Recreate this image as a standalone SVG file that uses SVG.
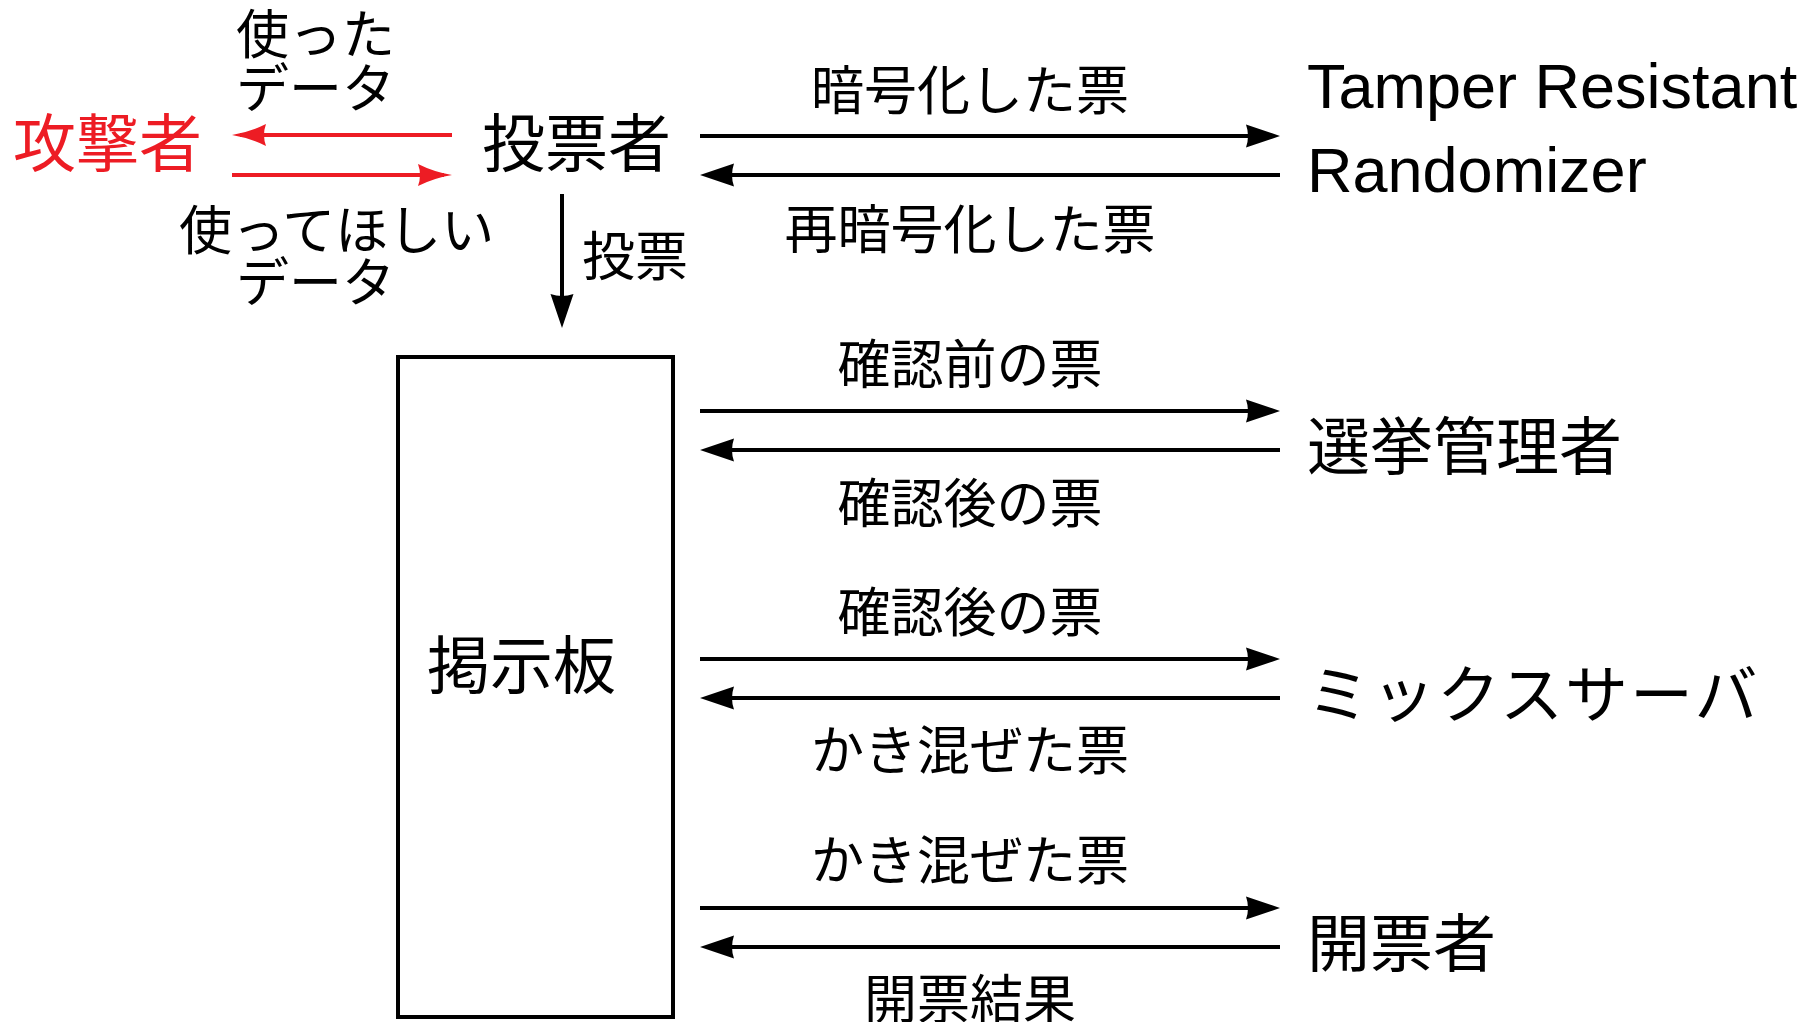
<svg xmlns="http://www.w3.org/2000/svg" width="1807" height="1022" viewBox="0 0 1807 1022">
<style>
text{font-family:"Liberation Sans","Noto Sans CJK JP",sans-serif;fill:#000}
.big{font-size:63px}
.lat{font-size:63px}
.lbl{font-size:53px}
.mid{text-anchor:middle}
.red{fill:#ED1C24}
.ln{stroke:#000;stroke-width:4;fill:none}
.rln{stroke:#ED1C24;stroke-width:4;fill:none}
</style>
<defs>
<marker id="ah" viewBox="0 -12 36 24" markerUnits="userSpaceOnUse" markerWidth="36" markerHeight="24" refX="26" refY="0" orient="auto">
<path d="M0,-11.5 L34,0 L0,11.5 Q4,0 0,-11.5 Z" fill="#000"/>
</marker>
<marker id="rah" viewBox="0 -12 36 24" markerUnits="userSpaceOnUse" markerWidth="36" markerHeight="24" refX="26" refY="0" orient="auto">
<path d="M0,-11 Q16,-3 34,0 Q16,3 0,11 Q4,0 0,-11 Z" fill="#ED1C24"/>
</marker>
</defs>
<g id="connectors">
<line class="rln" x1="452" y1="135" x2="240" y2="135" marker-end="url(#rah)"/>
<line class="rln" x1="232" y1="175" x2="444" y2="175" marker-end="url(#rah)"/>
<line class="ln" x1="562" y1="194" x2="562" y2="320" marker-end="url(#ah)"/>
<line class="ln" x1="700" y1="136" x2="1272" y2="136" marker-end="url(#ah)"/>
<line class="ln" x1="1280" y1="175" x2="708" y2="175" marker-end="url(#ah)"/>
<line class="ln" x1="700" y1="411" x2="1272" y2="411" marker-end="url(#ah)"/>
<line class="ln" x1="1280" y1="450" x2="708" y2="450" marker-end="url(#ah)"/>
<line class="ln" x1="700" y1="659" x2="1272" y2="659" marker-end="url(#ah)"/>
<line class="ln" x1="1280" y1="698" x2="708" y2="698" marker-end="url(#ah)"/>
<line class="ln" x1="700" y1="908" x2="1272" y2="908" marker-end="url(#ah)"/>
<line class="ln" x1="1280" y1="947" x2="708" y2="947" marker-end="url(#ah)"/>
<text class="lbl" x="236" y="54">使った</text>
<text class="lbl" x="236" y="108">データ</text>
<text class="lbl" x="179" y="250">使ってほしい</text>
<text class="lbl" x="236" y="302">データ</text>
<text class="lbl" x="582" y="276">投票</text>
<text class="lbl mid" x="970" y="110">暗号化した票</text>
<text class="lbl mid" x="970" y="249">再暗号化した票</text>
<text class="lbl mid" x="970" y="384">確認前の票</text>
<text class="lbl mid" x="970" y="523">確認後の票</text>
<text class="lbl mid" x="970" y="632">確認後の票</text>
<text class="lbl mid" x="970" y="770">かき混ぜた票</text>
<text class="lbl mid" x="970" y="880">かき混ぜた票</text>
<text class="lbl mid" x="970" y="1019">開票結果</text>
</g>
<g id="attacker"><text class="big red" x="13" y="166">攻撃者</text></g>
<g id="voter"><text class="big" x="482" y="166">投票者</text></g>
<g id="trr"><text class="lat" x="1307" y="108">Tamper Resistant</text><text class="lat" x="1307" y="192">Randomizer</text></g>
<g id="bulletin-board"><rect x="398" y="357" width="275" height="660" fill="none" stroke="#000" stroke-width="4"/><text class="big" x="427" y="688">掲示板</text></g>
<g id="election-admin"><text class="big" x="1307" y="469">選挙管理者</text></g>
<g id="mix-server"><text class="big" x="1307" y="717" letter-spacing="2">ミックスサーバ</text></g>
<g id="tallier"><text class="big" x="1307" y="966">開票者</text></g>
</svg>
